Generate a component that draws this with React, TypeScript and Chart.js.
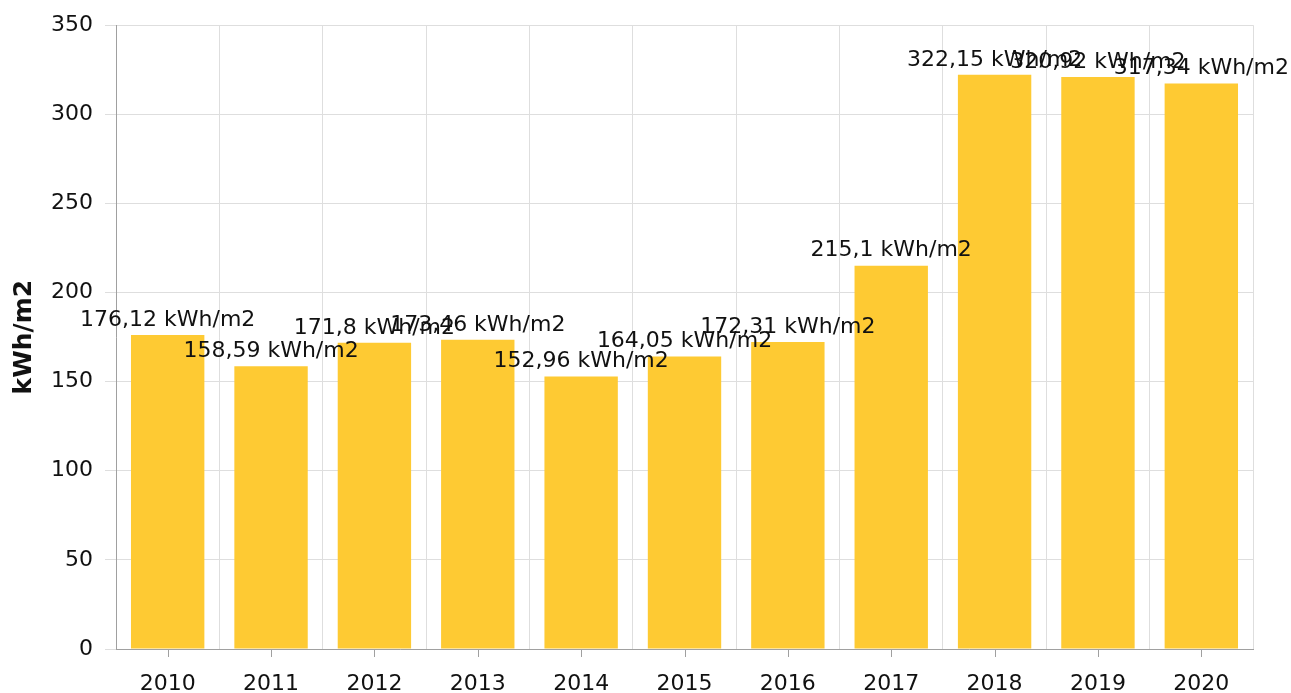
import React, { useEffect, useRef } from "react";
import { Chart, registerables } from "chart.js";

Chart.register(...registerables);

const categories = ["2010", "2011", "2012", "2013", "2014", "2015", "2016", "2017", "2018", "2019", "2020"];
const values = [176.12, 158.59, 171.8, 173.46, 152.96, 164.05, 172.31, 215.1, 322.15, 320.92, 317.34];
const labelTexts = ["176,12", "158,59", "171,8", "173,46", "152,96", "164,05", "172,31", "215,1", "322,15", "320,92", "317,34"];
const unit = "kWh/m2";
const yTicks = [0, 50, 100, 150, 200, 250, 300, 350];

const FONT = "'DejaVu Sans', Verdana, sans-serif";

const valueLabels = {
  id: "valueLabels",
  afterDatasetsDraw(chart: any) {
    const ctx = chart.ctx;
    const meta = chart.getDatasetMeta(0);
    ctx.save();
    ctx.font = `22px ${FONT}`;
    ctx.fillStyle = "#111";
    ctx.textAlign = "center";
    ctx.textBaseline = "bottom";
    meta.data.forEach((bar: any, i: number) => {
      ctx.fillText(`${labelTexts[i]} ${unit}`, bar.x, bar.y - 4);
    });
    ctx.restore();
  },
};

const xTickMarks = {
  id: "xTickMarks",
  afterDraw(chart: any) {
    const ctx = chart.ctx;
    const xs = chart.scales.x;
    const bottom = chart.chartArea.bottom;
    ctx.save();
    ctx.strokeStyle = "#a0a0a0";
    ctx.lineWidth = 1;
    categories.forEach((_, i) => {
      const x = Math.round(xs.getPixelForValue(i)) + 0.5;
      ctx.beginPath();
      ctx.moveTo(x, bottom);
      ctx.lineTo(x, bottom + 8);
      ctx.stroke();
    });
    ctx.restore();
  },
};

export default function App() {
  const ref = useRef<HTMLCanvasElement | null>(null);
  useEffect(() => {
    if (!ref.current) return;
    const chart = new Chart(ref.current, {
      type: "bar",
      data: {
        labels: categories,
        datasets: [
          {
            data: values,
            backgroundColor: "#FECA33",
            barPercentage: 0.71,
            categoryPercentage: 1,
          },
        ],
      },
      options: {
        animation: false,
        responsive: false,
        layout: { padding: { top: 25, right: 38, left: 0, bottom: 0 } },
        plugins: { legend: { display: false }, tooltip: { enabled: false } },
        scales: {
          x: {
            grid: { offset: true, color: "#dedede", drawTicks: false },
            border: { color: "#a0a0a0" },
            ticks: { font: { size: 22, family: FONT }, color: "#111", padding: 22 },
            afterFit: (s: any) => { s.height = 44; },
          },
          y: {
            min: 0,
            max: 350,
            afterBuildTicks: (s: any) => { s.ticks = yTicks.map((v) => ({ value: v })); },
            grid: { color: "#dedede", tickLength: 11 },
            border: { color: "#a0a0a0" },
            ticks: { font: { size: 22, family: FONT }, color: "#111", padding: 12 },
            title: {
              display: true,
              text: unit,
              font: { size: 25, weight: "bold", family: FONT },
              color: "#111",
              padding: { top: 9, bottom: 2 },
            },
            afterFit: (s: any) => { s.width = 116; },
          },
        },
      },
      plugins: [valueLabels, xTickMarks],
    });
    return () => chart.destroy();
  }, []);
  return (
    <div style={{ position: "absolute", left: 0, top: 0, width: 1291, height: 693, background: "#fff" }}>
      <canvas ref={ref} width={1291} height={693} style={{ width: 1291, height: 693 }} />
    </div>
  );
}
